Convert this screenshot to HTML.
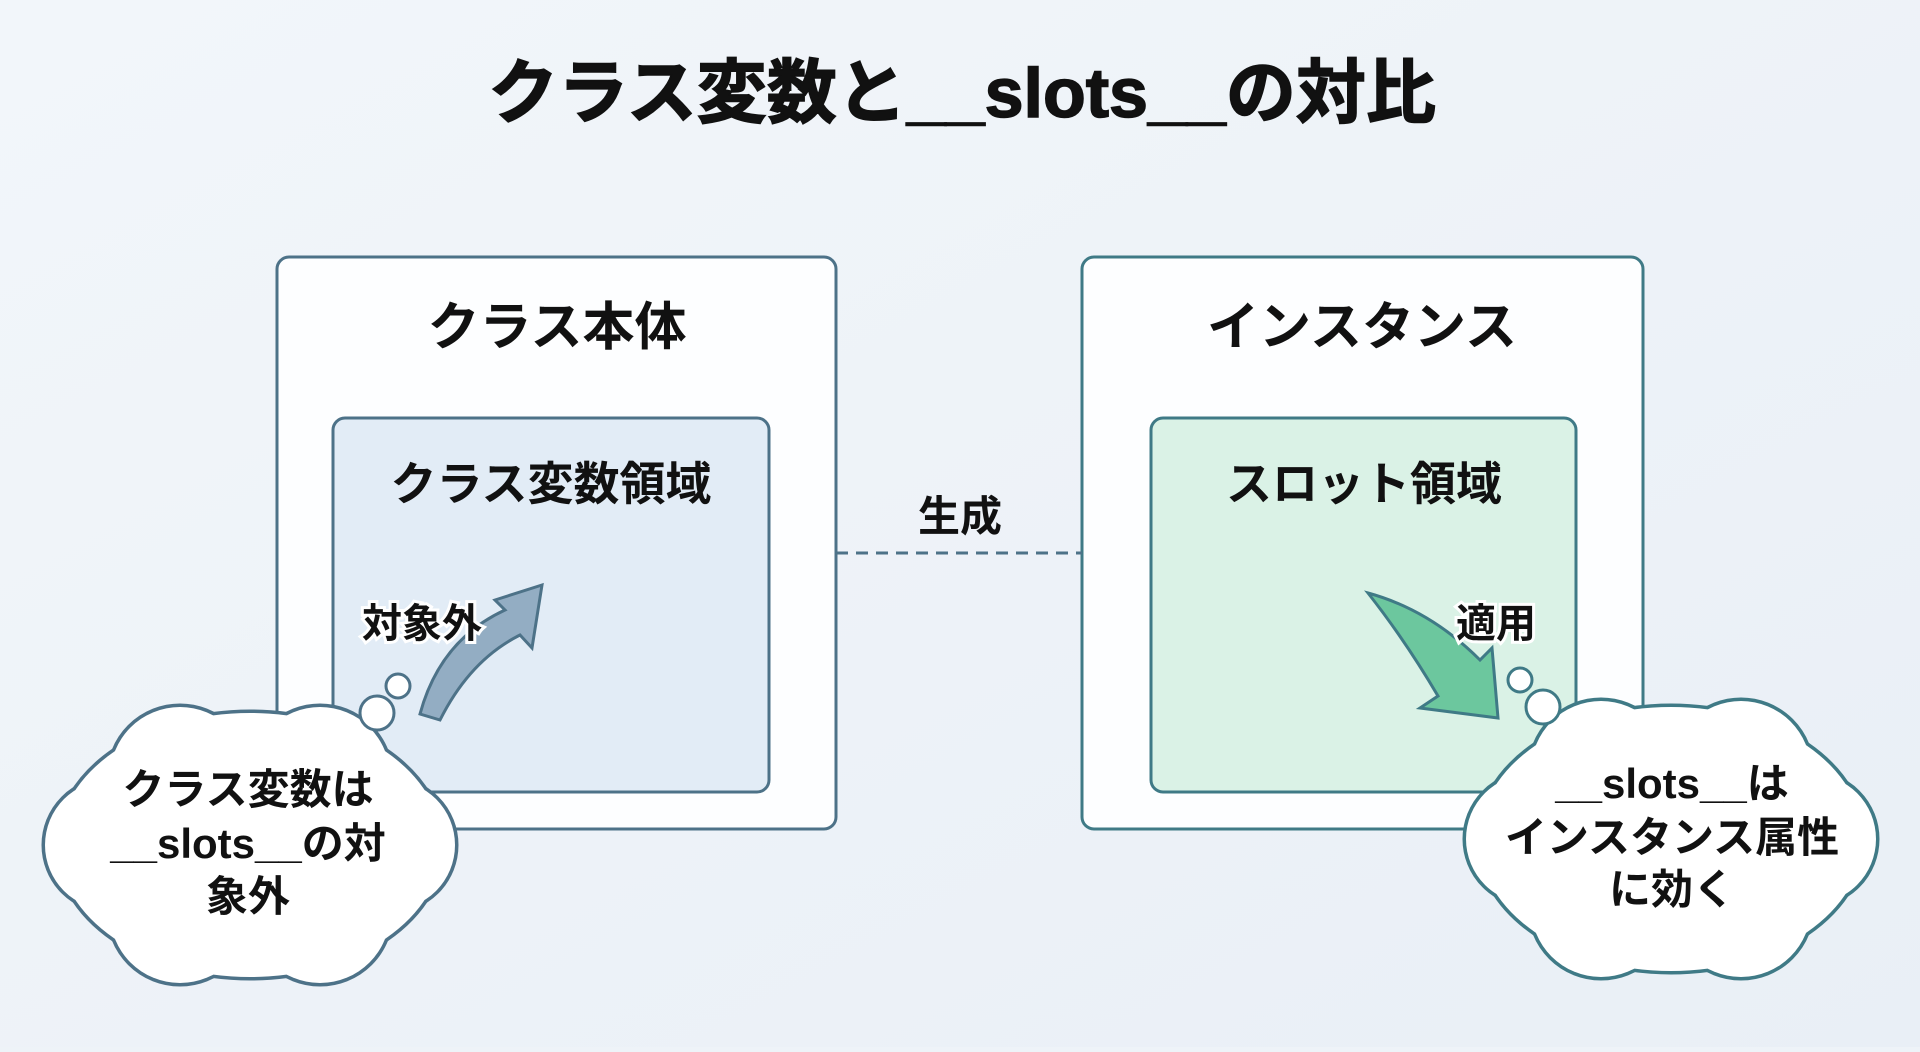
<!DOCTYPE html>
<html><head><meta charset="utf-8"><style>
body{margin:0;width:1920px;height:1047px;background:#eef3f8;overflow:hidden}
text{font-family:"Liberation Sans","Noto Sans CJK JP",sans-serif;font-weight:bold;fill:#111;text-anchor:middle}
</style></head><body>
<svg width="1920" height="1047" viewBox="0 0 1920 1047">
<defs>
<linearGradient id="bg" x1="0" y1="0" x2="1" y2="1"><stop offset="0" stop-color="#f2f6fa"/><stop offset="1" stop-color="#e9eff6"/></linearGradient>
<g id="lc">
<ellipse cx="250" cy="845" rx="192" ry="132"/>
<circle cx="390" cy="845" r="65"/><circle cx="320" cy="913" r="70"/><circle cx="180" cy="913" r="70"/>
<circle cx="110" cy="845" r="65"/><circle cx="180" cy="777" r="70"/><circle cx="320" cy="777" r="70"/>
</g>
<g id="rc">
<ellipse cx="1671" cy="839" rx="192" ry="132"/>
<circle cx="1811" cy="839" r="65"/><circle cx="1741" cy="907" r="70"/><circle cx="1601" cy="907" r="70"/>
<circle cx="1531" cy="839" r="65"/><circle cx="1601" cy="771" r="70"/><circle cx="1741" cy="771" r="70"/>
</g>
</defs>
<rect width="1920" height="1047" fill="url(#bg)"/>
<text x="962" y="117" font-size="70" stroke="#111" stroke-width="1.5">クラス変数と__slots__の対比</text>

<rect x="277" y="257" width="559" height="572" rx="12" fill="#fdfeff" stroke="#4d7288" stroke-width="3"/>
<rect x="1082" y="257" width="561" height="572" rx="12" fill="#fdfeff" stroke="#3f7a86" stroke-width="3"/>
<text x="557" y="345" font-size="52">クラス本体</text>
<text x="1362" y="345" font-size="52">インスタンス</text>
<rect x="333" y="418" width="436" height="374" rx="12" fill="#e2ecf6" stroke="#4d7288" stroke-width="3"/>
<rect x="1151" y="418" width="425" height="374" rx="12" fill="#daf2e6" stroke="#3f7a86" stroke-width="3"/>
<text x="551" y="500" font-size="46">クラス変数領域</text>
<text x="1364" y="500" font-size="46">スロット領域</text>

<line x1="836" y1="553" x2="1082" y2="553" stroke="#4d7288" stroke-width="3" stroke-dasharray="12,8"/>
<text x="960" y="531" font-size="42">生成</text>

<path d="M420 714 Q440 640 505 610 L495 600 L542 585 L532 648 L520 635 Q470 660 440 720 Z" fill="#93adc3" stroke="#4d7288" stroke-width="3"/>
<text x="422" y="637" font-size="40" stroke="#fff" stroke-width="6" paint-order="stroke">対象外</text>
<path d="M1368 593 Q1430 610 1480 660 L1492 648 L1498 718 L1420 708 L1438 696 Q1405 640 1368 593 Z" fill="#6cc79e" stroke="#3f7a86" stroke-width="3"/>
<text x="1496" y="637" font-size="40" stroke="#fff" stroke-width="6" paint-order="stroke">適用</text>

<use href="#lc" stroke="#4d7288" stroke-width="7" fill="#fff"/>
<use href="#lc" fill="#fff"/>
<circle cx="377" cy="713" r="17" fill="#fff" stroke="#4d7288" stroke-width="3"/>
<circle cx="398" cy="686" r="12" fill="#fff" stroke="#4d7288" stroke-width="3"/>
<text x="248" y="804" font-size="42">クラス変数は</text>
<text x="248" y="858" font-size="42">__slots__の対</text>
<text x="248" y="911" font-size="42">象外</text>

<use href="#rc" stroke="#3f7a86" stroke-width="7" fill="#fff"/>
<use href="#rc" fill="#fff"/>
<circle cx="1543" cy="707" r="17" fill="#fff" stroke="#3f7a86" stroke-width="3"/>
<circle cx="1520" cy="680" r="12" fill="#fff" stroke="#3f7a86" stroke-width="3"/>
<text x="1672" y="798" font-size="42">__slots__は</text>
<text x="1672" y="852" font-size="42">インスタンス属性</text>
<text x="1672" y="904" font-size="42">に効く</text>
</svg>
</body></html>
